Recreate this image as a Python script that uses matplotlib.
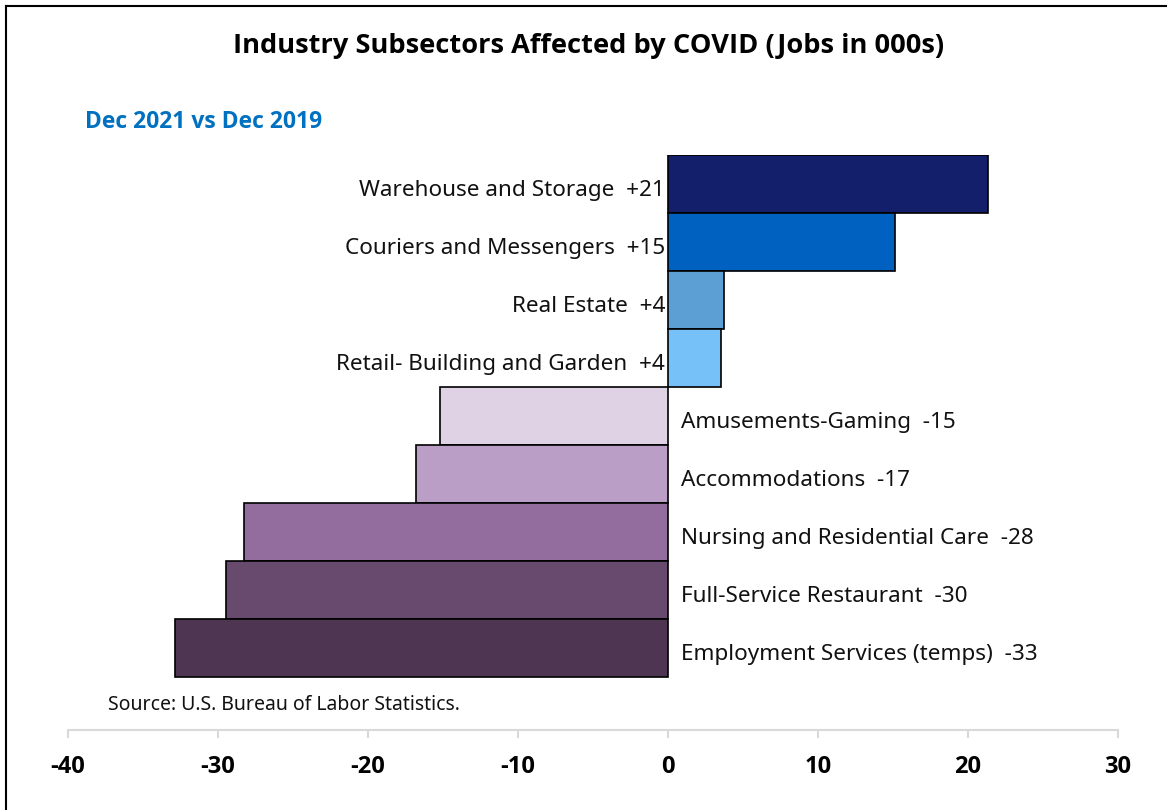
import matplotlib
matplotlib.use("Agg")
import matplotlib.pyplot as plt
from matplotlib.lines import Line2D

categories = ["Warehouse and Storage", "Couriers and Messengers", "Real Estate",
              "Retail- Building and Garden", "Amusements-Gaming", "Accommodations",
              "Nursing and Residential Care", "Full-Service Restaurant",
              "Employment Services (temps)"]
values = [21.3, 15.1, 3.7, 3.5, -15.2, -16.8, -28.3, -29.5, -32.9]
value_labels = ["+21", "+15", "+4", "+4", "-15", "-17", "-28", "-30", "-33"]
colors = ["#131F6B", "#0061C0", "#5B9FD4", "#75C1F8", "#DFD2E5",
          "#BB9EC6", "#946D9F", "#674A6E", "#4E3652"]
xticks = [-40, -30, -20, -10, 0, 10, 20, 30]

plt.rcParams['font.family'] = ['Open Sans', 'DejaVu Sans']
BOLD = ['Open Sans', 'DejaVu Sans']
REG = ['Noto Sans', 'DejaVu Sans']

W, H = 1167, 810
fig = plt.figure(figsize=(W / 100, H / 100), dpi=100)

ax_left, ax_right = 68 / W, 1118 / W
ax_top, ax_bot = 1 - 155 / H, 1 - 730 / H
ax = fig.add_axes([ax_left, ax_bot, ax_right - ax_left, ax_top - ax_bot])

n = len(categories)
ypos = list(range(n))
ax.barh(ypos, values, height=1.0, color=colors, edgecolor="black", linewidth=1.2, zorder=2)

ax.set_xlim(-40, 30)
extra = (730 - 677) / 58
ax.set_ylim(n - 0.5 + extra, -0.5)

for y, v, name, lab in zip(ypos, values, categories, value_labels):
    txt = f"{name}  {lab}"
    if v >= 0:
        ax.annotate(txt, (0, y), xytext=(-2, -4.5), textcoords="offset points",
                    ha="right", va="center", fontsize=16.2, color="#111111", family=REG)
    else:
        ax.annotate(txt, (0, y), xytext=(9.5, -4.5), textcoords="offset points",
                    ha="left", va="center", fontsize=16.2, color="#111111", family=REG)

for s in ["top", "right", "left"]:
    ax.spines[s].set_visible(False)
ax.spines["bottom"].set_color("#D9D9D9")
ax.spines["bottom"].set_linewidth(1.5)
ax.set_yticks([])
ax.set_xticks(xticks)
ax.set_xticklabels([str(t) for t in xticks], fontsize=17, fontweight="bold", family=BOLD)
ax.tick_params(axis="x", direction="out", length=6, width=1.5, color="#D9D9D9", pad=12)

fig.text(589 / W, 1 - 46 / H, "Industry Subsectors Affected by COVID (Jobs in 000s)",
         ha="center", va="center", fontsize=19.6, fontweight="bold", color="black", family=BOLD)
fig.text(85 / W, 1 - 122 / H, "Dec 2021 vs Dec 2019", ha="left", va="center",
         fontsize=16.5, fontweight="bold", color="#0070C0", family=BOLD)
fig.text(108 / W, 1 - 705 / H, "Source: U.S. Bureau of Labor Statistics.", ha="left",
         va="center", fontsize=14, color="#111111", family=REG)

fig.add_artist(Line2D([6 / W, 6 / W], [0, 1 - 6 / H], transform=fig.transFigure,
                      color="black", linewidth=1.5))
fig.add_artist(Line2D([6 / W, 1], [1 - 6 / H, 1 - 6 / H], transform=fig.transFigure,
                      color="black", linewidth=1.5))

fig.savefig("out.png", dpi=100)
